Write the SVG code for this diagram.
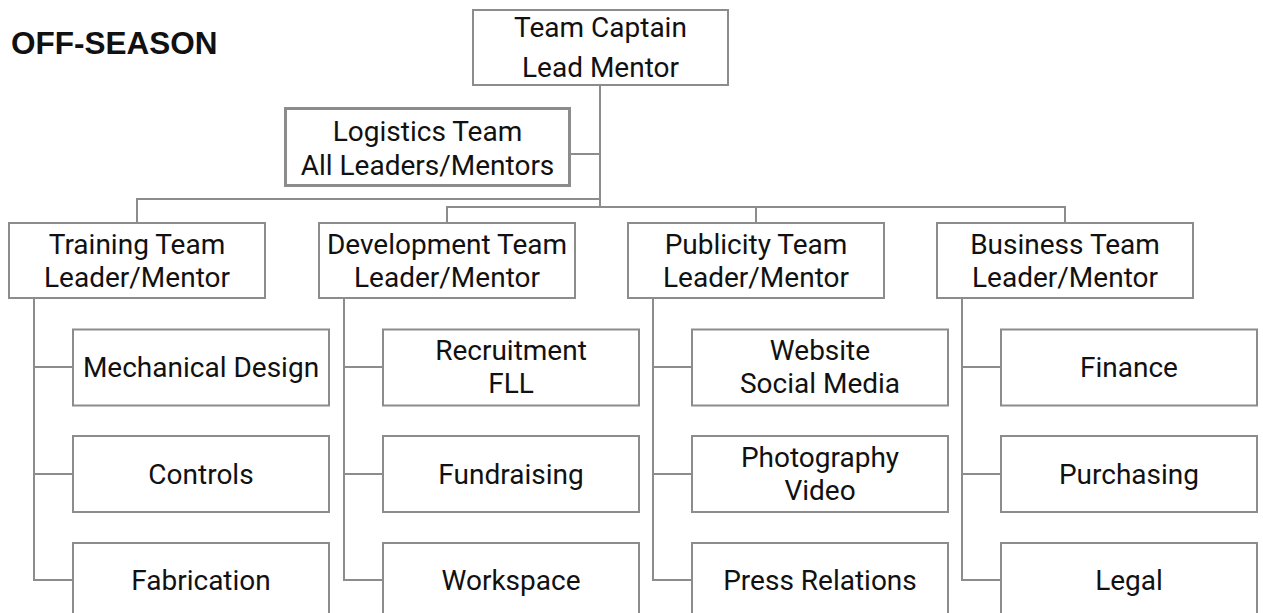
<svg xmlns="http://www.w3.org/2000/svg" width="1263" height="613" viewBox="0 0 1263 613">
<style>
.box{fill:#fff;stroke:#8c8c8c;stroke-width:2}
.thick{stroke-width:3}
.ln{fill:none;stroke:#8c8c8c;stroke-width:2}
text{font-family:Roboto,"Liberation Sans",sans-serif;font-size:28px;fill:#111;text-anchor:middle}
.title{font-family:"Liberation Sans",Arial,sans-serif;font-weight:bold;font-size:31.5px;text-anchor:start}
</style>
<rect width="1263" height="613" fill="#fff"/>
<text class="title" x="11" y="53.5">OFF-SEASON</text>
<g id="connectors">
<path class="ln" d="M600,85V207"/>
<path class="ln" d="M570,154H600"/>
<path class="ln" d="M137,223V199H600"/>
<path class="ln" d="M447,223V207H1065V223"/>
<path class="ln" d="M756,207V223"/>
<path class="ln" d="M34,298V580H73M34,367H73M34,474H73"/>
<path class="ln" d="M344,298V580H383M344,367H383M344,474H383"/>
<path class="ln" d="M653,298V580H692M653,367H692M653,474H692"/>
<path class="ln" d="M962,298V580H1001M962,367H1001M962,474H1001"/>
</g>
<g id="captain"><rect class="box" x="473" y="10" width="255" height="75"/><text x="600.5" y="37">Team Captain</text><text x="600.5" y="77">Lead Mentor</text></g>
<g id="logistics"><rect class="box thick" x="285.5" y="108.5" width="284" height="77"/><text x="427.5" y="140.5">Logistics Team</text><text x="427.5" y="175">All Leaders/Mentors</text></g>
<g id="training"><rect class="box" x="9" y="223" width="256" height="75"/><text x="137" y="254">Training Team</text><text x="137" y="287">Leader/Mentor</text></g>
<g id="development"><rect class="box" x="319" y="223" width="256" height="75"/><text x="447" y="254">Development Team</text><text x="447" y="287">Leader/Mentor</text></g>
<g id="publicity"><rect class="box" x="628" y="223" width="256" height="75"/><text x="756" y="254">Publicity Team</text><text x="756" y="287">Leader/Mentor</text></g>
<g id="business"><rect class="box" x="937" y="223" width="256" height="75"/><text x="1065" y="254">Business Team</text><text x="1065" y="287">Leader/Mentor</text></g>
<g id="mechanical"><rect class="box" x="73" y="329.5" width="256" height="76"/><text x="201" y="377">Mechanical Design</text></g>
<g id="controls"><rect class="box" x="73" y="436" width="256" height="76"/><text x="201" y="483.5">Controls</text></g>
<g id="fabrication"><rect class="box" x="73" y="543" width="256" height="76"/><text x="201" y="589.5">Fabrication</text></g>
<g id="recruitment"><rect class="box" x="383" y="329.5" width="256" height="76"/><text x="511" y="360">Recruitment</text><text x="511" y="393">FLL</text></g>
<g id="fundraising"><rect class="box" x="383" y="436" width="256" height="76"/><text x="511" y="483.5">Fundraising</text></g>
<g id="workspace"><rect class="box" x="383" y="543" width="256" height="76"/><text x="511" y="589.5">Workspace</text></g>
<g id="website"><rect class="box" x="692" y="329.5" width="256" height="76"/><text x="820" y="360">Website</text><text x="820" y="393">Social Media</text></g>
<g id="photography"><rect class="box" x="692" y="436" width="256" height="76"/><text x="820" y="467">Photography</text><text x="820" y="500">Video</text></g>
<g id="press"><rect class="box" x="692" y="543" width="256" height="76"/><text x="820" y="589.5">Press Relations</text></g>
<g id="finance"><rect class="box" x="1001" y="329.5" width="256" height="76"/><text x="1129" y="377">Finance</text></g>
<g id="purchasing"><rect class="box" x="1001" y="436" width="256" height="76"/><text x="1129" y="483.5">Purchasing</text></g>
<g id="legal"><rect class="box" x="1001" y="543" width="256" height="76"/><text x="1129" y="589.5">Legal</text></g>
</svg>
